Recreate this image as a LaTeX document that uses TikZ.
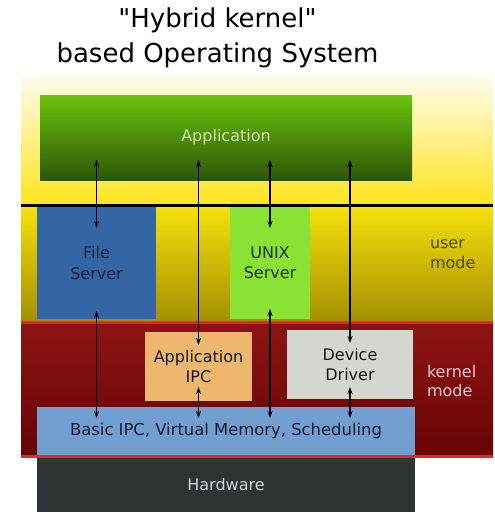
\documentclass[tikz,border=0pt]{standalone}
\usepackage{fontspec}
\setmainfont{DejaVu Sans}[Ligatures=TeXOff]
\usetikzlibrary{arrows.meta,calc}
\definecolor{cTopA}{HTML}{FFFCEC}
\definecolor{cTopB}{HTML}{FFE41C}
\definecolor{cUserA}{HTML}{F7E20C}
\definecolor{cUserB}{HTML}{A38F00}
\definecolor{cKerA}{HTML}{8E1414}
\definecolor{cKerB}{HTML}{670404}
\definecolor{cRed}{HTML}{E8262A}
\definecolor{cAppA}{HTML}{6BC40C}
\definecolor{cAppB}{HTML}{2D5506}
\definecolor{cAppT}{HTML}{CDEBA8}
\definecolor{cFS}{HTML}{3465A4}
\definecolor{cFST}{HTML}{17263C}
\definecolor{cUnix}{HTML}{8AE234}
\definecolor{cUnixT}{HTML}{1A330A}
\definecolor{cIPC}{HTML}{EDB86E}
\definecolor{cDD}{HTML}{D3D7CF}
\definecolor{cBasic}{HTML}{729FCF}
\definecolor{cBasicT}{HTML}{111E33}
\definecolor{cHW}{HTML}{2E3436}
\definecolor{cHWT}{HTML}{D3D7CF}
\definecolor{cUserT}{HTML}{564700}
\definecolor{cKerT}{HTML}{F2CACA}
\begin{document}
\begin{tikzpicture}[x=1pt,y=-1pt,
  box/.style={inner sep=0pt, outer sep=0pt, align=center, font=\fontsize{16}{20.5}\selectfont},
  lbl/.style={inner sep=0pt, outer sep=0pt, align=left, anchor=west, font=\fontsize{16}{19.5}\selectfont},
  ttl/.style={inner sep=0pt, anchor=base, font=\fontsize{26}{30}\selectfont},
  dar/.style={{Stealth[length=7pt,width=5pt]}-{Stealth[length=7pt,width=5pt]}, line width=1.3pt, black},
  redline/.style={line width=2.6pt, cRed}]
\useasboundingbox (0,0) rectangle (495,512);
\fill[white] (0,0) rectangle (495,512);
% title
\node[ttl] (t1) at (217.5,27) {"Hybrid kernel"};
\node[ttl] (t2) at (217.5,62) {based Operating System};
% bands
\shade[top color=cTopA, bottom color=cTopB] (21,76) rectangle (493,205);
\shade[top color=cUserA, bottom color=cUserB] (21,205) rectangle (493,322);
\shade[top color=cKerA, bottom color=cKerB] (21,322) rectangle (493,457);
\draw[line width=3pt] (21,205) -- (493,205);
% boxes
\node[box, top color=cAppA, bottom color=cAppB, text=cAppT, minimum width=372pt, minimum height=85pt] (app) at (226,137.5) {Application};
\node[box, fill=cFS, text=cFST, minimum width=119pt, minimum height=112pt] (fs) at (96.5,263) {File\\Server};
\node[box, fill=cUnix, text=cUnixT, minimum width=80pt, minimum height=112pt] (unix) at (270,263) {UNIX\\Server};
\node[box, fill=cIPC, text=black!90, minimum width=107pt, minimum height=69pt] (aipc) at (198.5,366.5) {Application\\IPC};
\node[box, fill=cDD, text=black!90, minimum width=126pt, minimum height=69pt] (dd) at (350,364.5) {Device\\Driver};
\node[box, fill=cBasic, text=cBasicT, minimum width=378pt, minimum height=48pt, font=\fontsize{16.4}{20}\selectfont] (basic) at (226,431) {Basic IPC, Virtual Memory, Scheduling};
\node[box, fill=cHW, text=cHWT, minimum width=378pt, minimum height=55pt] (hw) at (226,484.5) {\raisebox{-2pt}{Hardware}};
\draw[redline] (21,322.5) -- (493,322.5);
\draw[redline] (21,456.5) -- (493,456.5);
% labels
\node[lbl, text=cUserT] (um) at (430,254) {user\\mode};
\node[lbl, text=cKerT] (km) at (427,381) {kernel\\mode};
% arrows
\draw[dar] ($(fs|-app.south)+(0,-20)$) -- ($(fs.north)+(0,21)$);
\draw[dar] ($(fs.south)+(0,-8)$) -- ($(fs|-basic.north)+(0,11)$);
\draw[dar] ($(aipc|-app.south)+(0,-20)$) -- ($(aipc.north)+(0,13)$);
\draw[dar] ($(aipc.south)+(0,-14)$) -- ($(aipc|-basic.north)+(0,11)$);
\draw[dar] ($(unix|-app.south)+(0,-20)$) -- ($(unix.north)+(0,21)$);
\draw[dar] ($(unix.south)+(0,-10)$) -- ($(unix|-basic.north)+(0,11)$);
\draw[dar] ($(dd|-app.south)+(0,-20)$) -- ($(dd.north)+(0,13)$);
\draw[dar] ($(dd.south)+(0,-12)$) -- ($(dd|-basic.north)+(0,11)$);
\end{tikzpicture}
\end{document}
